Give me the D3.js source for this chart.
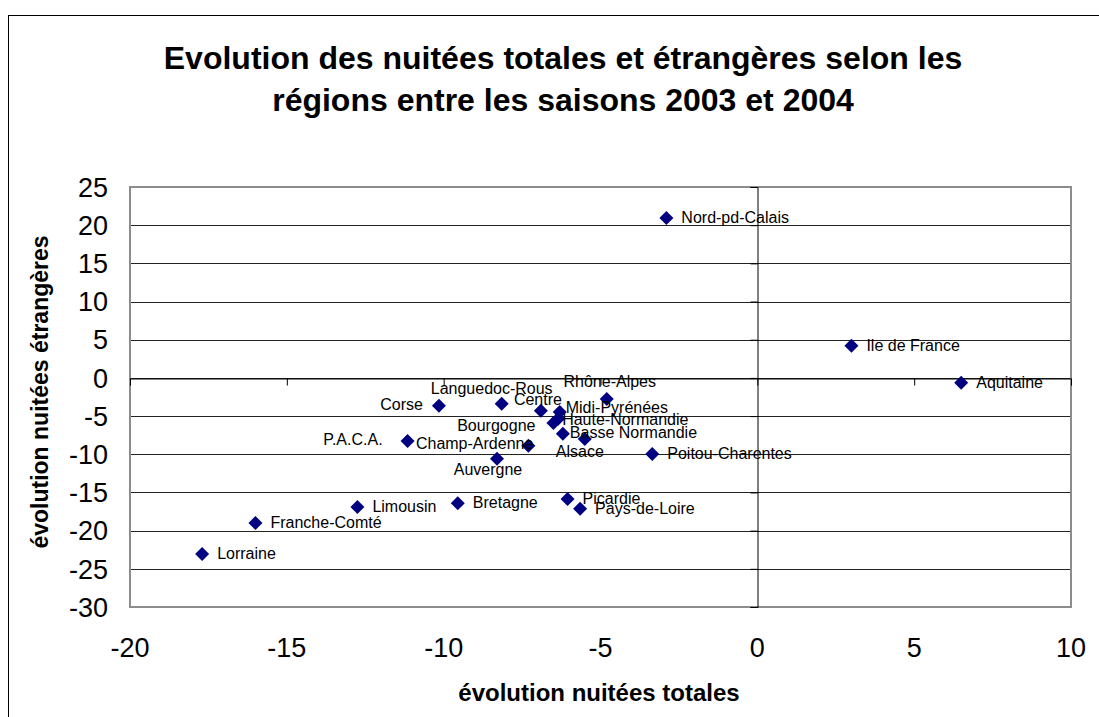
<!DOCTYPE html>
<html>
<head>
<meta charset="utf-8">
<script src="https://cdn.jsdelivr.net/npm/d3@7"></script>
<style>
  body { margin: 0; background: #fff; }
  svg { display: block; font-family: "Liberation Sans", Arial, sans-serif; }
</style>
</head>
<body>
<div id="chart"></div>
<script>
// regions and their values (x: total, y: foreign)
var regions = ["Nord-pd-Calais", "Ile de France", "Aquitaine", "Lorraine", "Franche-Comté",
  "Limousin", "Bretagne", "Picardie", "Pays-de-Loire", "Poitou-Charentes", "Auvergne",
  "Champ-Ardenne", "P.A.C.A.", "Corse", "Languedoc-Rous", "Centre", "Rhône-Alpes",
  "Midi-Pyrénées", "Haute-Normandie", "Bourgogne", "Basse Normandie", "Alsace"];
var evolTotales = [-2.9, 3.0, 6.5, -17.7, -16.0, -12.75, -9.55, -6.05, -5.65, -3.35, -8.3,
  -7.3, -11.15, -10.15, -8.15, -6.9, -4.8, -6.3, -6.35, -6.5, -6.2, -5.5];
var evolEtrangeres = [20.95, 4.2, -0.65, -23.05, -19.0, -16.9, -16.4, -15.85, -17.15, -9.95, -10.6,
  -8.9, -8.25, -3.65, -3.4, -4.3, -2.75, -4.45, -5.35, -5.9, -7.3, -8.0];
var xTicks = [-20, -15, -10, -5, 0, 5, 10];
var yTicks = [25, 20, 15, 10, 5, 0, -5, -10, -15, -20, -25, -30];

// label placement tweaks (default: right of the point)
var labelPos = {
  "Rhône-Alpes": ["middle", 3, -18],
  "Languedoc-Rous": ["middle", -10, -16],
  "Corse": ["end", -16, -2],
  "Centre": ["middle", -3, -12],
  "Midi-Pyrénées": ["start", 6, -5],
  "Haute-Normandie": ["start", 4, 0],
  "Bourgogne": ["end", -18, 2],
  "Basse Normandie": ["start", 7, -1],
  "Alsace": ["middle", -5, 12],
  "P.A.C.A.": ["end", -25, -2],
  "Champ-Ardenne": ["end", 5, -3],
  "Auvergne": ["middle", -9, 10]
};

var width = 1099, height = 717;
var margin = {left: 130, right: 28, top: 187, bottom: 110};

var svg = d3.select("#chart").append("svg")
  .attr("width", width)
  .attr("height", height);

// outer frame
svg.append("rect")
  .attr("x", 8.5).attr("y", 15.5)
  .attr("width", 1100).attr("height", 720)
  .attr("fill", "none").attr("stroke", "#000").attr("stroke-width", 1);

var x = d3.scaleLinear().domain([-20, 10]).range([margin.left, width - margin.right]);
var y = d3.scaleLinear().domain([-30, 25]).range([height - margin.bottom, margin.top]);

// title
var title = svg.append("text")
  .attr("text-anchor", "middle")
  .attr("font-size", 32)
  .attr("font-weight", "bold");
title.append("tspan").attr("x", 563).attr("y", 69)
  .text("Evolution des nuitées totales et étrangères selon les");
title.append("tspan").attr("x", 563).attr("y", 111)
  .text("régions entre les saisons 2003 et 2004");

// horizontal gridlines
svg.append("g")
  .selectAll("line")
  .data(yTicks)
  .enter().append("line")
  .attr("x1", x(-20)).attr("x2", x(10))
  .attr("y1", function(d) { return Math.round(y(d)) + 0.5; })
  .attr("y2", function(d) { return Math.round(y(d)) + 0.5; })
  .attr("stroke", "#222").attr("stroke-width", 1);

// plot area border
svg.append("rect")
  .attr("x", x(-20)).attr("y", y(25))
  .attr("width", x(10) - x(-20)).attr("height", y(-30) - y(25))
  .attr("fill", "none").attr("stroke", "#8c8c8c").attr("stroke-width", 2);

// axes crossing at zero
var xAxis = svg.append("g")
  .attr("transform", "translate(0," + (Math.round(y(0)) + 0.5) + ")")
  .call(d3.axisBottom(x).tickValues(xTicks).tickSize(7).tickFormat(""));
xAxis.select(".domain").attr("stroke", "#000");

var yAxis = svg.append("g")
  .attr("transform", "translate(" + (Math.round(x(0)) + 0.5) + ",0)")
  .call(d3.axisLeft(y).tickValues(yTicks).tickSize(7).tickFormat(""));
yAxis.select(".domain").attr("stroke", "#000");

// tick labels
svg.append("g")
  .selectAll("text")
  .data(xTicks)
  .enter().append("text")
  .attr("x", function(d) { return x(d); })
  .attr("y", 657)
  .attr("text-anchor", "middle")
  .attr("font-size", 27)
  .text(function(d) { return d; });

svg.append("g")
  .selectAll("text")
  .data(yTicks)
  .enter().append("text")
  .attr("x", 108)
  .attr("y", function(d) { return y(d); })
  .attr("dy", "0.36em")
  .attr("text-anchor", "end")
  .attr("font-size", 27)
  .text(function(d) { return d; });

// axis titles
svg.append("text")
  .attr("x", 599).attr("y", 701)
  .attr("text-anchor", "middle")
  .attr("font-size", 24)
  .attr("font-weight", "bold")
  .text("évolution nuitées totales");

svg.append("text")
  .attr("transform", "translate(48,392) rotate(-90)")
  .attr("text-anchor", "middle")
  .attr("font-size", 23)
  .attr("font-weight", "bold")
  .text("évolution nuitées étrangères");

// points
var points = regions.map(function(name, i) {
  return {name: name, tx: evolTotales[i], ty: evolEtrangeres[i]};
});

var diamond = d3.symbol().type(d3.symbolDiamond2).size(125);

svg.append("g")
  .selectAll("path")
  .data(points)
  .enter().append("path")
  .attr("d", diamond)
  .attr("transform", function(d) { return "translate(" + x(d.tx) + "," + y(d.ty) + ")"; })
  .attr("fill", "#000080");

svg.append("g")
  .selectAll("text")
  .data(points)
  .enter().append("text")
  .attr("x", function(d) {
    var p = labelPos[d.name];
    return x(d.tx) + (p ? p[1] : 15);
  })
  .attr("y", function(d) {
    var p = labelPos[d.name];
    return y(d.ty) + (p ? p[2] : -1);
  })
  .attr("dy", "0.36em")
  .attr("text-anchor", function(d) { return labelPos[d.name] ? labelPos[d.name][0] : "start"; })
  .attr("font-size", 16)
  .attr("fill", "#000")
  .text(function(d) { return d.name; });
</script>
</body>
</html>
